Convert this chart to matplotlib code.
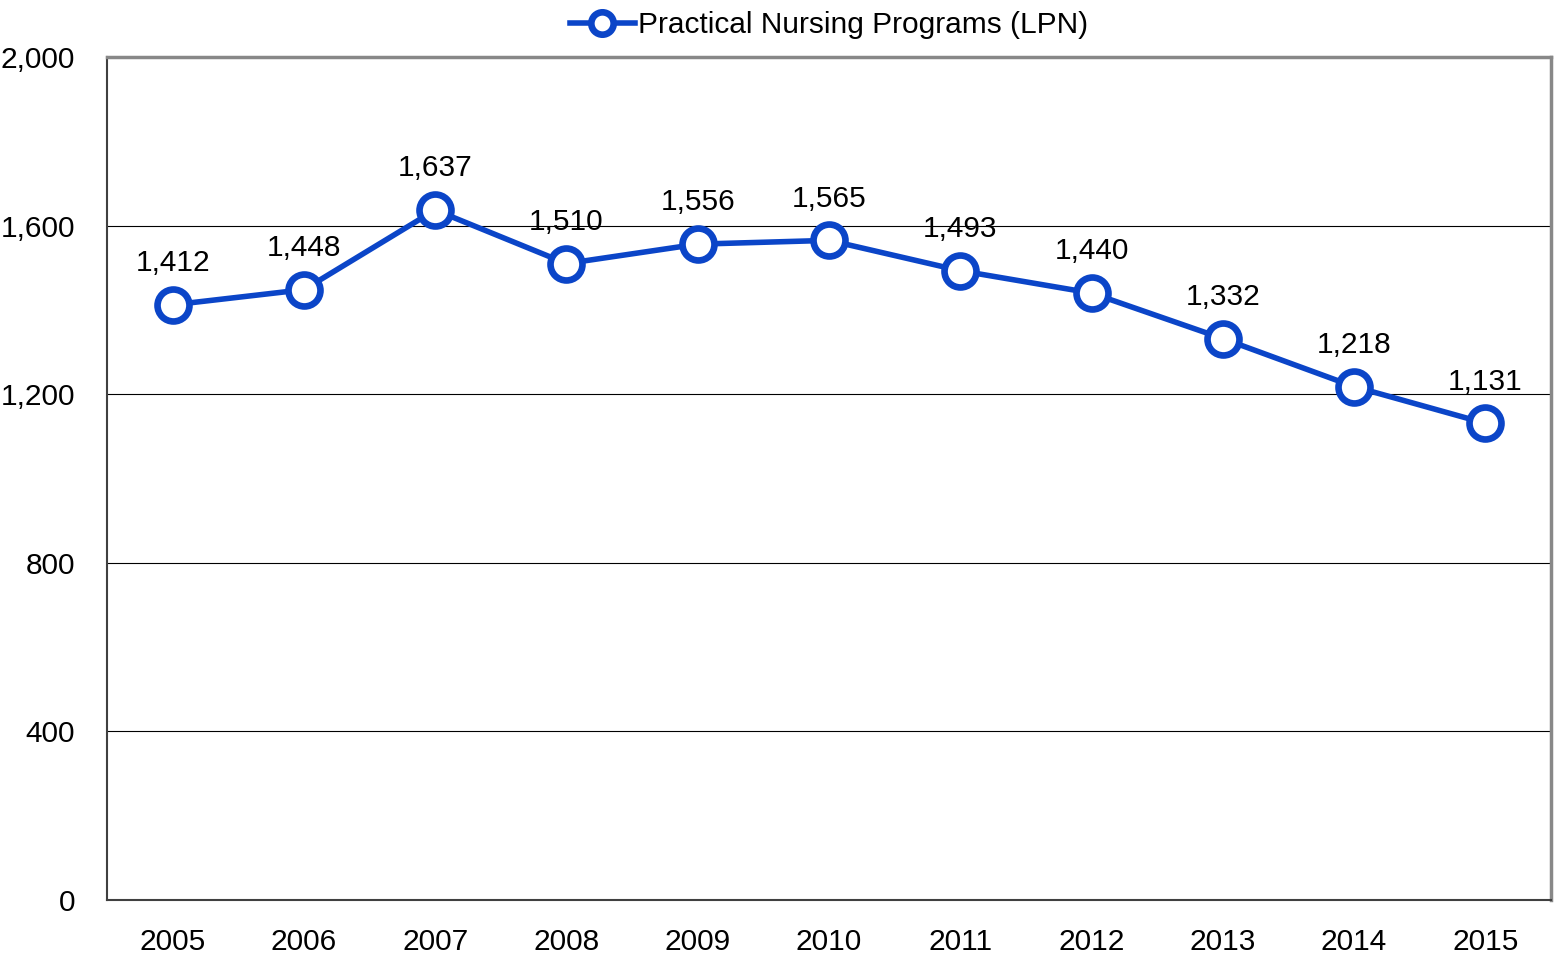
import matplotlib.pyplot as plt
from matplotlib.ticker import FuncFormatter

plt.rcParams['font.family'] = ['Liberation Sans', 'DejaVu Sans']

years = ['2005', '2006', '2007', '2008', '2009', '2010', '2011', '2012', '2013', '2014', '2015']
lpn = [1412, 1448, 1637, 1510, 1556, 1565, 1493, 1440, 1332, 1218, 1131]
yticks = [0, 400, 800, 1200, 1600, 2000]

blue = '#0B45C8'

fig = plt.figure(figsize=(15.57, 9.59), dpi=100)
ax = fig.add_axes([107 / 1557, 1 - 900 / 959, 1444 / 1557, 843 / 959])

x = list(range(len(years)))
ax.plot(x, lpn, color=blue, lw=4, marker='o', ms=23, mfc='white',
        mec=blue, mew=4.8, label='Practical Nursing Programs (LPN)', zorder=3)

# value labels above each point
for xi, v in zip(x, lpn):
    ax.annotate(f'{v:,}', (xi, v), xytext=(0, 20), textcoords='offset points',
                ha='center', va='bottom', fontsize=21.5)

ax.set_xlim(-0.5, len(years) - 0.5)
ax.set_ylim(0, 2000)
ax.set_xticks(x)
ax.set_xticklabels(years)
ax.set_yticks(yticks)
ax.yaxis.set_major_formatter(FuncFormatter(lambda v, p: f'{int(v):,}'))
ax.tick_params(length=0, labelsize=21.5)
ax.tick_params(axis='x', pad=20)
ax.tick_params(axis='y', pad=23)
ax.grid(axis='y', color='black', lw=0.8)
ax.set_axisbelow(True)

for side in ['top', 'right']:
    ax.spines[side].set_color('#888888')
    ax.spines[side].set_linewidth(2.5)
for side in ['left', 'bottom']:
    ax.spines[side].set_color('#404040')
    ax.spines[side].set_linewidth(1.5)

ax.legend(loc='lower center', bbox_to_anchor=(0.5, 1.0), frameon=False,
          fontsize=21.5, handlelength=2.2, handletextpad=0.1, borderaxespad=0.2,
          markerscale=0.7)

fig.savefig('out.png', dpi=100)
